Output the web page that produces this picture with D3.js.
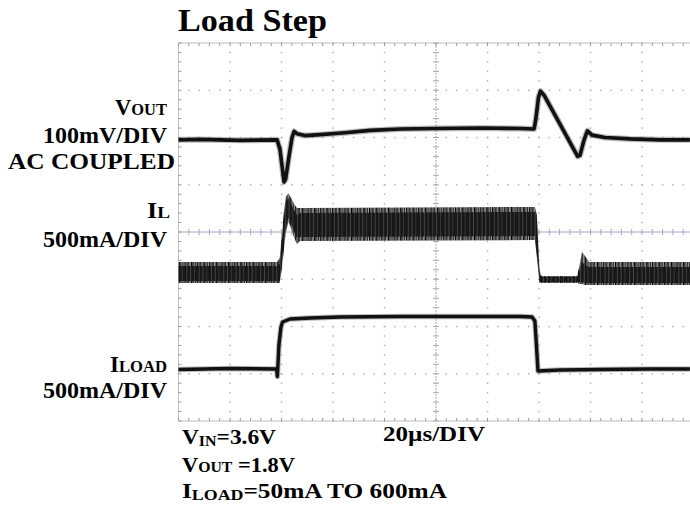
<!DOCTYPE html>
<html>
<head>
<meta charset="utf-8">
<script src="https://cdn.jsdelivr.net/npm/d3@7"></script>
<style>
  html, body { margin: 0; padding: 0; background: #fff; }
  svg { display: block; }
  text { font-family: "Liberation Serif", "Times New Roman", serif; font-weight: bold; fill: #000; }
</style>
</head>
<body>
<svg id="chart" width="690" height="510"></svg>
<script>
// ---------------- DATA ----------------
// time in microseconds (20 µs/div, 10 divisions)
// VOUT, AC coupled, in mV (100 mV/div), channel reference at +2 div
const voutTime = [0, 8.3, 23.9, 38.3, 39.4, 40.2, 41.0, 41.6, 42.9, 44.1, 44.9, 46.0, 49.1, 55.0, 64.7, 74.4, 86.2, 99.6, 117.1, 132.6, 138.1, 138.8, 139.8, 140.6, 141.9, 148.2, 155.0, 155.9, 157.5, 158.8, 160.6, 165.6, 175.3, 187.0, 198.6];
const voutMV   = [-5, -4, -6, -5, -25, -60, -94, -88, -40, 0, 13, 8, 4, 6, 10, 15, 18, 19, 20, 19, 18, 40, 85, 98, 90, 28, -40, -38, -5, 14, 5, 0, -3, -5, -5];

// Inductor current IL in mA (500 mA/div), channel reference at -1 div
// envelope of the switching ripple: outer (peaks) and core (dense part)
const ilTime    = [0, 38.3, 39.3, 40.2, 41.0, 41.7, 42.7, 43.7, 44.9, 46.0, 47.2, 138.4, 139.2, 140.2, 141.0, 154.8, 156.0, 156.7, 157.9, 159.4, 198.6];
const ilOuterHi = [182, 182, 225, 500, 733, 870, 913, 860, 796, 754, 754, 765, 680, 98, 35, 35, 182, 288, 246, 182, 182];
const ilOuterLo = [-40, -40, -40, 120, 330, 500, 606, 543, 437, 373, 405, 415, 225, -40, -40, -40, -50, -50, -61, -61, -61];
const ilCoreHi  = [140, 140, 161, 415, 680, 818, 860, 796, 733, 680, 701, 712, 606, 56, 24, 24, 119, 182, 151, 130, 130];
const ilCoreLo  = [-18, -18, -18, 183, 415, 564, 648, 606, 500, 437, 447, 457, 288, -29, -29, -29, -29, -29, -40, -40, -40];

// Load current ILOAD in mA (500 mA/div), channel reference at -3 div
const iloadTime = [0, 20, 38.1, 38.4, 39.0, 39.8, 40.4, 43.3, 51.1, 62.7, 86, 109.3, 132.6, 137.3, 138.4, 139.0, 139.6, 148, 163.7, 183.1, 198.6];
const iloadMA   = [45, 55, 50, -29, 304, 495, 548, 579, 590, 600, 606, 606, 606, 600, 558, 304, 29, 40, 45, 50, 50];

// channel settings
const channels = { vout: { ref: 2, perDiv: 100 }, il: { ref: -1, perDiv: 500 }, iload: { ref: -3, perDiv: 500 } };

// texts
const title = "Load Step";
const timeBase = "20µs/DIV";

// ---------------- DRAWING ----------------
const svg = d3.select("#chart");
svg.append("rect").attr("width", 690).attr("height", 510).attr("fill", "#fff");

const x = d3.scaleLinear().domain([0, 200]).range([178.5, 693.5]);
const y = d3.scaleLinear().domain([-4, 4]).range([421, 43]);
const yCh = ch => v => y(channels[ch].ref + v / channels[ch].perDiv);

// texture patterns for the ripple band (style only)
const defs = svg.append("defs");
function stripes(id, bg, list, w) {
  const p = defs.append("pattern").attr("id", id).attr("patternUnits", "userSpaceOnUse").attr("width", w).attr("height", 20);
  p.append("rect").attr("width", w).attr("height", 20).attr("fill", bg);
  list.forEach(s => p.append("rect").attr("x", s[0]).attr("width", s[1]).attr("height", 20).attr("fill", s[2]));
}
stripes("ripple", "#a8a8a8", [[0, 1.3, "#000"], [1.9, 0.8, "#555"], [3.1, 1.4, "#111"], [5.3, 0.7, "#666"], [6.5, 1.6, "#000"], [8.8, 1.0, "#333"], [10.4, 0.9, "#222"]], 12.3);
stripes("core", "#181818", [[2.2, 0.6, "#5a5a5a"], [6.1, 0.5, "#707070"], [9.7, 0.6, "#4a4a4a"]], 12.3);

// ---- grid ----
const g = svg.append("g");
const minorX = d3.range(0, 200.001, 4);
const minorY = d3.range(-4, 4.001, 0.2).map(v => Math.round(v * 10) / 10);
const majorX = d3.range(20, 200, 20);
const majorY = [-3, -2, -1, 1, 2, 3];
const dotCol = "#b4b4b4";

majorY.forEach(d => {
  minorX.forEach(t => {
    g.append("rect").attr("x", x(t) - 0.7).attr("y", y(d) - 0.7).attr("width", 1.5).attr("height", 1.5).attr("fill", dotCol);
  });
});
majorX.filter(t => t !== 100).forEach(t => {
  minorY.forEach(d => {
    g.append("rect").attr("x", x(t) - 0.7).attr("y", y(d) - 0.7).attr("width", 1.5).attr("height", 1.5).attr("fill", dotCol);
  });
});

const axCol = "#a3a8c4";
// center horizontal
g.append("line").attr("x1", x(0)).attr("x2", x(200)).attr("y1", y(0)).attr("y2", y(0)).attr("stroke", axCol).attr("stroke-width", 1);
minorX.forEach(t => g.append("line").attr("x1", x(t)).attr("x2", x(t)).attr("y1", y(0) - 3).attr("y2", y(0) + 3).attr("stroke", axCol));
// center vertical
g.append("line").attr("x1", x(100)).attr("x2", x(100)).attr("y1", y(4)).attr("y2", y(-4)).attr("stroke", axCol).attr("stroke-width", 1).attr("stroke-dasharray", "2,1");
minorY.forEach(d => g.append("line").attr("x1", x(100) - 3).attr("x2", x(100) + 3).attr("y1", y(d)).attr("y2", y(d)).attr("stroke", axCol));

// border
const bCol = "#bdbdbd";
g.append("line").attr("x1", x(0)).attr("x2", x(200)).attr("y1", y(4)).attr("y2", y(4)).attr("stroke", bCol);
g.append("line").attr("x1", x(0)).attr("x2", x(200)).attr("y1", y(-4)).attr("y2", y(-4)).attr("stroke", bCol);
g.append("line").attr("x1", x(0)).attr("x2", x(0)).attr("y1", y(4)).attr("y2", y(-4)).attr("stroke", bCol);
minorX.forEach(t => {
  g.append("line").attr("x1", x(t)).attr("x2", x(t)).attr("y1", y(4)).attr("y2", y(4) + 3).attr("stroke", "#999");
  g.append("line").attr("x1", x(t)).attr("x2", x(t)).attr("y1", y(-4)).attr("y2", y(-4) - 3).attr("stroke", "#999");
});
minorY.forEach(d => g.append("line").attr("x1", x(0)).attr("x2", x(0) + 3).attr("y1", y(d)).attr("y2", y(d)).attr("stroke", "#999"));

// ---- traces ----
// IL ripple band
const ilData = ilTime.map((t, i) => ({ t, oh: ilOuterHi[i], ol: ilOuterLo[i], ch: ilCoreHi[i], cl: ilCoreLo[i] }));
const yIL = yCh("il");
svg.append("path").datum(ilData)
  .attr("d", d3.area().x(d => x(d.t)).y0(d => yIL(d.ol)).y1(d => yIL(d.oh)))
  .attr("fill", "url(#ripple)");
svg.append("path").datum(ilData)
  .attr("d", d3.area().x(d => x(d.t)).y0(d => yIL(d.cl)).y1(d => yIL(d.ch)))
  .attr("fill", "url(#core)");

// VOUT
const yV = yCh("vout");
const voutData = voutTime.map((t, i) => ({ t, v: voutMV[i] }));
const vLine = d3.line().x(d => x(d.t)).y(d => yV(d.v));
svg.append("path").datum(voutData).attr("d", vLine).attr("fill", "none").attr("stroke", "#777").attr("stroke-width", 6).attr("stroke-linejoin", "round").attr("opacity", 0.5);
svg.append("path").datum(voutData).attr("d", vLine).attr("fill", "none").attr("stroke", "#111").attr("stroke-width", 3.6).attr("stroke-linejoin", "round");

// ILOAD
const yLd = yCh("iload");
const loadData = iloadTime.map((t, i) => ({ t, v: iloadMA[i] }));
const lLine = d3.line().x(d => x(d.t)).y(d => yLd(d.v));
svg.append("path").datum(loadData).attr("d", lLine).attr("fill", "none").attr("stroke", "#777").attr("stroke-width", 5.5).attr("stroke-linejoin", "round").attr("opacity", 0.5);
svg.append("path").datum(loadData).attr("d", lLine).attr("fill", "none").attr("stroke", "#111").attr("stroke-width", 3.4).attr("stroke-linejoin", "round");

// ---- texts ----
function label(px, py, parts, len) {
  const t = svg.append("text").attr("x", px).attr("y", py);
  parts.forEach(p => {
    const s = t.append("tspan").attr("font-size", p[1]).text(p[0]);
    if (p[2]) s.attr("dy", p[2]);
  });
  if (len) t.attr("textLength", len).attr("lengthAdjust", "spacingAndGlyphs");
  return t;
}

label(178, 31, [[title, 31]], 149);

label(115, 115, [["V", 24], ["OUT", 17.5]], 52);
label(43, 143, [["100mV/DIV", 24]], 124);
label(8, 169, [["AC COUPLED", 24]], 167);

label(147, 218, [["I", 24], ["L", 17.5]], 23);
label(43, 247, [["500mA/DIV", 24]], 124);

label(110, 372, [["I", 24], ["LOAD", 17.5]], 57);
label(43, 398, [["500mA/DIV", 24]], 124);

label(182, 444, [["V", 22], ["IN", 15, 2], ["=3.6V", 22, -2]], 94);
label(383, 441, [[timeBase, 22]], 102);
label(182, 472, [["V", 22], ["OUT", 15.5], [" =1.8V", 22]], 113);
label(182, 498, [["I", 22], ["LOAD", 15.5, 2], ["=50mA TO 600mA", 22, -2]], 265);
</script>
</body>
</html>
